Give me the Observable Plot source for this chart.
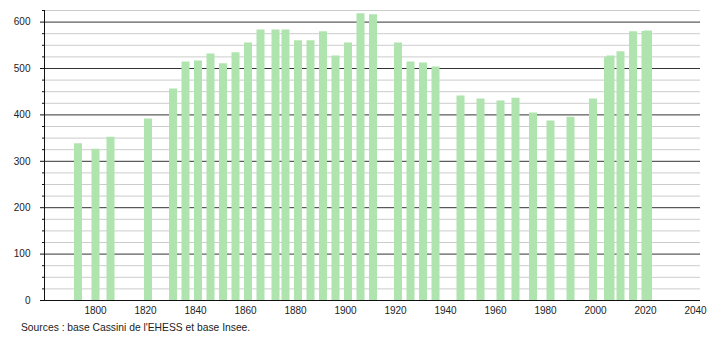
<!DOCTYPE html>
<html>
<head>
<meta charset="utf-8">
<script src="https://cdn.jsdelivr.net/npm/d3@7"></script>
<script src="https://cdn.jsdelivr.net/npm/@observablehq/plot@0.6"></script>
<style>
  html, body { margin: 0; padding: 0; background: #fff; }
  #wrap { position: relative; width: 710px; height: 340px; }
  #caption { position: absolute; left: 21px; top: 321px; font: 10.3px "Liberation Sans", Arial, sans-serif; line-height: 13px; color: #222; white-space: nowrap; }
</style>
</head>
<body>
<div id="wrap">
  <div id="chart"></div>
  <div id="caption">Sources : base Cassini de l'EHESS et base Insee.</div>
</div>
<script>
const years = [1793, 1800, 1806, 1821, 1831, 1836, 1841, 1846, 1851, 1856, 1861, 1866, 1872, 1876, 1881, 1886, 1891, 1896, 1901, 1906, 1911, 1921, 1926, 1931, 1936, 1946, 1954, 1962, 1968, 1975, 1982, 1990, 1999, 2005, 2006, 2010, 2015, 2020, 2021];
const population = [338, 326, 352, 391, 456, 514, 516, 531, 510, 534, 555, 583, 583, 583, 560, 560, 579, 527, 555, 618, 616, 555, 514, 512, 503, 441, 434, 430, 436, 404, 387, 395, 434, 524, 527, 536, 579, 580, 581];
const yMajorTicks = [0, 100, 200, 300, 400, 500, 600];
const yMinorTicks = [25, 50, 75, 125, 150, 175, 225, 250, 275, 325, 350, 375, 425, 450, 475, 525, 550, 575, 625];
const xTicks = [1800, 1820, 1840, 1860, 1880, 1900, 1920, 1940, 1960, 1980, 2000, 2020, 2040];

const data = years.map((year, i) => ({year, pop: population[i]}));
const xDomain = [1779.6, 2042];

const chart = Plot.plot({
  width: 710,
  height: 318,
  marginLeft: 44,
  marginRight: 10,
  marginTop: 10,
  marginBottom: 18,
  style: {fontFamily: "'Liberation Sans', Arial, sans-serif", fontSize: "10px", color: "#222", background: "#fff"},
  x: {domain: xDomain, axis: null},
  y: {domain: [0, 625], axis: null},
  marks: [
    Plot.ruleY(yMinorTicks, {stroke: "#cccccc", strokeWidth: 1}),
    Plot.ruleY(yMajorTicks, {stroke: "#333", strokeWidth: 1}),
    Plot.ruleX(data, {x: "year", y1: 0, y2: "pop", stroke: "#b0e4ae", strokeWidth: 8}),
    Plot.ruleX([xDomain[0]], {y1: 0, y2: 625, stroke: "#111"}),
    Plot.ruleY([0], {stroke: "#111"}),
    Plot.axisY(yMajorTicks, {tickSize: 4, tickPadding: 10, label: null, stroke: "#111"}),
    Plot.axisY(yMinorTicks, {tickSize: 2, tickFormat: () => "", label: null, stroke: "#111"}),
    Plot.axisX(xTicks, {tickSize: 0, tickPadding: 6, tickFormat: d => String(d), label: null})
  ]
});
document.getElementById("chart").appendChild(chart);
</script>
</body>
</html>
